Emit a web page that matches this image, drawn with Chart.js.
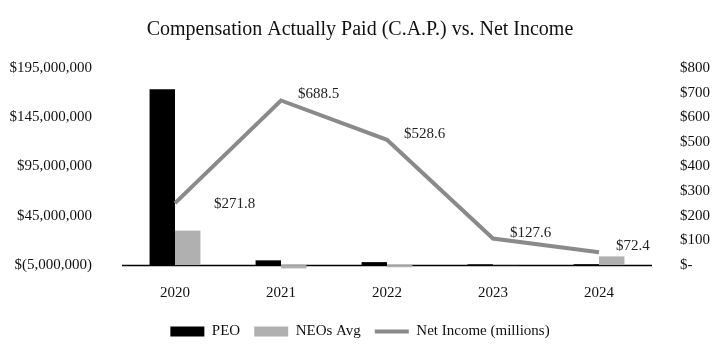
<!DOCTYPE html>
<html lang="en">

<head>
    <meta charset="UTF-8">
    <title>C.A.P. vs Net Income</title>
    <script src="https://cdn.jsdelivr.net/npm/chart.js@4.4.1/dist/chart.umd.min.js"></script>
    <style>
        body { margin: 0; background: #fff; }
    </style>
</head>

<body>
    <canvas id="chart" width="720" height="359"></canvas>
</body>
<script>
    var years = ['2020', '2021', '2022', '2023', '2024'];
    var peo = [178500000, 4800000, 3000000, 800000, 900000];
    var neosAvg = [35000000, -3400000, -2200000, 300000, 8800000];
    var netIncome = [271.8, 688.5, 528.6, 127.6, 72.4];
    var leftTicks = [-5000000, 45000000, 95000000, 145000000, 195000000];

    var serif = '"Liberation Serif", "DejaVu Serif", serif';

    function money(v) {
        if (v < 0) return '$(' + Math.abs(v).toLocaleString('en-US') + ')';
        return '$' + v.toLocaleString('en-US');
    }

    // black horizontal axis line sits at zero on the left scale
    var zeroLine = {
        id: 'zeroLine',
        beforeDatasetsDraw: function (chart) {
            var ctx = chart.ctx;
            var y = Math.round(chart.scales.y.getPixelForValue(0)) + 0.5;
            ctx.save();
            ctx.strokeStyle = '#000';
            ctx.lineWidth = 1.3;
            ctx.beginPath();
            ctx.moveTo(chart.chartArea.left, y);
            ctx.lineTo(chart.chartArea.right, y);
            ctx.stroke();
            ctx.restore();
        }
    };

    // "$xxx.x" labels next to the net income points
    var lineLabels = {
        id: 'lineLabels',
        afterDatasetsDraw: function (chart) {
            var ctx = chart.ctx;
            var meta = chart.getDatasetMeta(2);
            ctx.save();
            ctx.font = '15px ' + serif;
            ctx.fillStyle = '#222';
            ctx.textAlign = 'left';
            ctx.textBaseline = 'middle';
            meta.data.forEach(function (pt, i) {
                var dx = i == 0 ? 39 : 17;
                var dy = i == 0 ? 1 : -6;
                ctx.fillText('$' + netIncome[i].toFixed(1), pt.x + dx, pt.y + dy);
            });
            ctx.restore();
        }
    };

    var context = document.getElementById('chart');
    var chart = new Chart(context, {
        type: 'bar',
        data: {
            labels: years,
            datasets: [{
                label: 'PEO',
                data: peo,
                backgroundColor: '#000',
                yAxisID: 'y',
                order: 1,
                pointStyle: 'rect',
                categoryPercentage: 0.48,
                barPercentage: 1
            }, {
                label: 'NEOs Avg',
                data: neosAvg,
                backgroundColor: '#b0b0b0',
                yAxisID: 'y',
                order: 1,
                pointStyle: 'rect',
                categoryPercentage: 0.48,
                barPercentage: 1
            }, {
                type: 'line',
                label: 'Net Income (millions)',
                data: netIncome,
                borderColor: '#8a8a8a',
                backgroundColor: '#8a8a8a',
                borderWidth: 4,
                pointRadius: 0,
                pointStyle: 'line',
                tension: 0,
                yAxisID: 'y1',
                order: 0
            }]
        },
        options: {
            responsive: false,
            animation: false,
            layout: { padding: { left: 0, right: 0, top: 0, bottom: 10 } },
            scales: {
                x: {
                    grid: { display: false },
                    border: { display: false },
                    ticks: { color: '#111', font: { family: serif, size: 15 }, padding: 6 },
                    afterFit: function (s) { s.height = 40; }
                },
                y: {
                    position: 'left',
                    min: -5000000,
                    max: 195000000,
                    grid: { display: false },
                    border: { display: false },
                    afterBuildTicks: function (s) {
                        s.ticks = leftTicks.map(function (v) { return { value: v }; });
                    },
                    afterFit: function (s) { s.width = 122; },
                    ticks: {
                        color: '#111',
                        font: { family: serif, size: 15 },
                        padding: 22,
                        labelOffset: -5,
                        callback: function (v) { return money(v); }
                    }
                },
                y1: {
                    position: 'right',
                    min: 0,
                    max: 800,
                    grid: { display: false },
                    border: { display: false },
                    afterFit: function (s) { s.width = 68; },
                    ticks: {
                        stepSize: 100,
                        color: '#111',
                        font: { family: serif, size: 15 },
                        padding: 20,
                        labelOffset: -5,
                        callback: function (v) { return v == 0 ? '$-' : '$' + v; }
                    }
                }
            },
            plugins: {
                title: {
                    display: true,
                    text: 'Compensation Actually Paid (C.A.P.) vs. Net Income',
                    color: '#111',
                    font: { family: serif, size: 20, weight: 'normal' },
                    padding: { top: 18, bottom: 31 }
                },
                legend: {
                    position: 'bottom',
                    labels: {
                        usePointStyle: true,
                        pointStyleWidth: 34,
                        boxHeight: 10,
                        color: '#111',
                        font: { family: serif, size: 15 },
                        padding: 14,
                        sort: function (a, b) { return a.datasetIndex - b.datasetIndex; }
                    }
                },
                tooltip: { enabled: false }
            }
        },
        plugins: [zeroLine, lineLabels]
    });
</script>

</html>
